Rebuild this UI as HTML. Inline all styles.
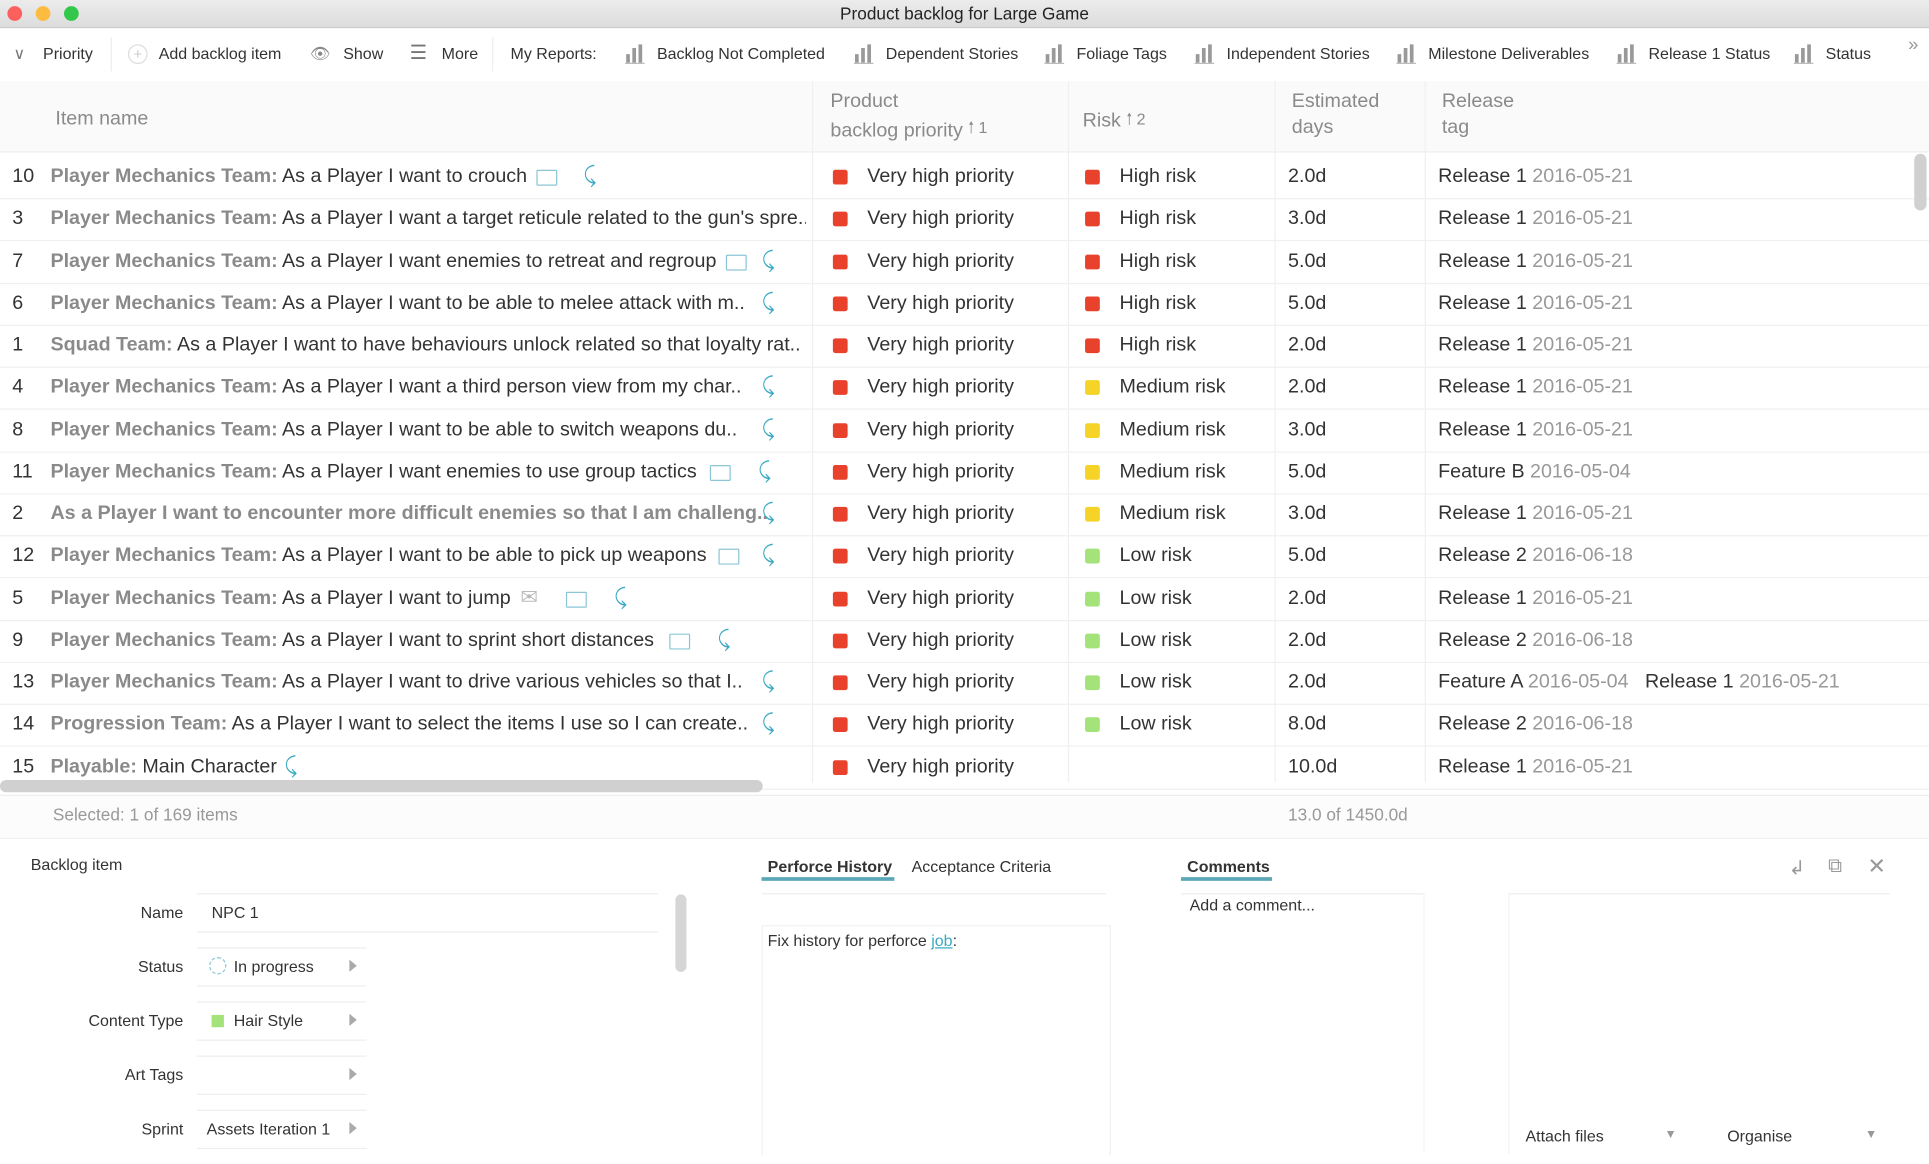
<!DOCTYPE html>
<html><head><meta charset="utf-8">
<style>
html,body{margin:0;padding:0;width:1929px;height:1164px;overflow:hidden;background:#fff;}
#w{position:absolute;left:0;top:0;width:1568px;height:946px;transform:scale(1.23023);transform-origin:0 0;font-family:"Liberation Sans",sans-serif;color:#333;}
.a{position:absolute;white-space:nowrap;}
.tb{font-size:13px;top:36px;color:#333;}
.ic{position:absolute;top:36px;}
.hd{font-size:16px;color:#8a8a8a;line-height:21px;}
.row{position:absolute;left:0;width:1568px;height:34px;border-bottom:1px solid #f0f0f0;font-size:16px;}
.row span{position:absolute;top:8px;white-space:nowrap;}
.g{color:#8a8a8a;font-weight:bold;}
.d{color:#999;}
.sq{position:absolute;top:11px;width:12px;height:12px;border-radius:2px;}
.box{display:inline-block;width:15px;height:11px;border:1.5px solid #8cc6d6;border-radius:1px;vertical-align:-1px;}
.arr{color:#3aa9c4;font-size:18px;}
.lbl{position:absolute;font-size:13px;text-align:right;width:120px;left:29px;}
.fld{position:absolute;border-top:1px solid #eee;border-bottom:1px solid #eee;font-size:13px;}
.fld .t{position:absolute;left:10px;top:7px;}
.fld .tri{position:absolute;right:8px;top:9px;width:0;height:0;border-left:6px solid #aaa;border-top:5px solid transparent;border-bottom:5px solid transparent;}
</style></head><body><div id="w">
<div class="a" style="left:0;top:0;width:1568px;height:22px;background:linear-gradient(#ececec,#dcdcdc);border-bottom:1px solid #c8c8c8;"></div>
<div class="a" style="left:6px;top:5px;width:12px;height:12px;border-radius:50%;background:#fc605c;"></div>
<div class="a" style="left:29px;top:5px;width:12px;height:12px;border-radius:50%;background:#fdbc40;"></div>
<div class="a" style="left:52px;top:5px;width:12px;height:12px;border-radius:50%;background:#34c84a;"></div>
<div class="a" style="left:0;width:1568px;top:3px;text-align:center;font-size:14px;color:#222;">Product backlog for Large Game</div>
<div class="a" style="left:0;top:23px;width:1568px;height:43px;background:#fff;"></div>
<div class="a tb" style="left:11px;color:#777;">∨</div>
<div class="a tb" style="left:35px;">Priority</div>
<div class="a" style="left:90px;top:30px;width:1px;height:28px;background:#eee;"></div>
<div class="a" style="left:104px;top:36px;width:14px;height:14px;border:1px solid #ddd;border-radius:50%;color:#ccc;font-size:12px;text-align:center;line-height:14px;">+</div>
<div class="a tb" style="left:129px;">Add backlog item</div>
<div class="a tb" style="left:252px;color:#888;">👁</div>
<div class="a tb" style="left:279px;">Show</div>
<div class="a tb" style="left:333px;color:#777;font-size:16px;top:33px;">☰</div>
<div class="a tb" style="left:359px;">More</div>
<div class="a" style="left:400px;top:30px;width:1px;height:28px;background:#eee;"></div>
<div class="a tb" style="left:415px;">My Reports:</div>
<svg class="ic" style="left:508px" width="18" height="16"><rect x="1" y="8" width="3" height="7" fill="#999"/><rect x="6" y="3" width="3" height="12" fill="#999"/><rect x="11" y="0" width="3" height="15" fill="#999"/><rect x="0" y="15" width="16" height="1" fill="#bbb"/></svg>
<div class="a tb" style="left:534px;">Backlog Not Completed</div>
<svg class="ic" style="left:694px" width="18" height="16"><rect x="1" y="8" width="3" height="7" fill="#999"/><rect x="6" y="3" width="3" height="12" fill="#999"/><rect x="11" y="0" width="3" height="15" fill="#999"/><rect x="0" y="15" width="16" height="1" fill="#bbb"/></svg>
<div class="a tb" style="left:720px;">Dependent Stories</div>
<svg class="ic" style="left:849px" width="18" height="16"><rect x="1" y="8" width="3" height="7" fill="#999"/><rect x="6" y="3" width="3" height="12" fill="#999"/><rect x="11" y="0" width="3" height="15" fill="#999"/><rect x="0" y="15" width="16" height="1" fill="#bbb"/></svg>
<div class="a tb" style="left:875px;">Foliage Tags</div>
<svg class="ic" style="left:971px" width="18" height="16"><rect x="1" y="8" width="3" height="7" fill="#999"/><rect x="6" y="3" width="3" height="12" fill="#999"/><rect x="11" y="0" width="3" height="15" fill="#999"/><rect x="0" y="15" width="16" height="1" fill="#bbb"/></svg>
<div class="a tb" style="left:997px;">Independent Stories</div>
<svg class="ic" style="left:1135px" width="18" height="16"><rect x="1" y="8" width="3" height="7" fill="#999"/><rect x="6" y="3" width="3" height="12" fill="#999"/><rect x="11" y="0" width="3" height="15" fill="#999"/><rect x="0" y="15" width="16" height="1" fill="#bbb"/></svg>
<div class="a tb" style="left:1161px;">Milestone Deliverables</div>
<svg class="ic" style="left:1314px" width="18" height="16"><rect x="1" y="8" width="3" height="7" fill="#999"/><rect x="6" y="3" width="3" height="12" fill="#999"/><rect x="11" y="0" width="3" height="15" fill="#999"/><rect x="0" y="15" width="16" height="1" fill="#bbb"/></svg>
<div class="a tb" style="left:1340px;">Release 1 Status</div>
<svg class="ic" style="left:1458px" width="18" height="16"><rect x="1" y="8" width="3" height="7" fill="#999"/><rect x="6" y="3" width="3" height="12" fill="#999"/><rect x="11" y="0" width="3" height="15" fill="#999"/><rect x="0" y="15" width="16" height="1" fill="#bbb"/></svg>
<div class="a tb" style="left:1484px;">Status</div>
<div class="a tb" style="left:1551px;top:28px;color:#999;font-size:15px;">»</div>
<div class="a" style="left:0;top:66px;width:1568px;height:57px;background:#fafafa;border-bottom:1px solid #eee;"></div>
<div class="a" style="left:660px;top:66px;width:1px;height:570px;background:#f0f0f0;"></div>
<div class="a" style="left:868px;top:66px;width:1px;height:570px;background:#f0f0f0;"></div>
<div class="a" style="left:1036px;top:66px;width:1px;height:570px;background:#f0f0f0;"></div>
<div class="a" style="left:1158px;top:66px;width:1px;height:570px;background:#f0f0f0;"></div>
<div class="a hd" style="left:45px;top:86px;">Item name</div>
<div class="a hd" style="left:675px;top:72px;">Product<br>backlog priority <span style="font-size:13px;vertical-align:3px">🠑 1</span></div>
<div class="a hd" style="left:880px;top:86px;">Risk <span style="font-size:13px;vertical-align:2px">🠑 2</span></div>
<div class="a hd" style="left:1050px;top:72px;">Estimated<br>days</div>
<div class="a hd" style="left:1172px;top:72px;">Release<br>tag</div>
<div id="rows"></div>
<div class="a" style="left:1556px;top:125px;width:10px;height:46px;border-radius:5px;background:#d0d0d0;"></div>
<div class="a" style="left:0;top:634px;width:620px;height:10px;border-radius:5px;background:#d0d0d0;"></div>
<div class="a" style="left:0;top:646px;width:1568px;height:34px;background:#fcfcfc;border-top:1px solid #eee;border-bottom:1px solid #f0f0f0;"></div>
<div class="a" style="left:43px;top:654px;font-size:14px;color:#999;">Selected: 1 of 169 items</div>
<div class="a" style="left:1047px;top:654px;font-size:14px;color:#999;">13.0 of 1450.0d</div>
<div class="a" style="left:25px;top:695px;font-size:13px;">Backlog item</div>
<div class="lbl" style="top:734px;">Name</div>
<div class="lbl" style="top:778px;">Status</div>
<div class="lbl" style="top:822px;">Content Type</div>
<div class="lbl" style="top:866px;">Art Tags</div>
<div class="lbl" style="top:910px;">Sprint</div>
<div class="fld" style="left:160px;top:726px;width:375px;height:30px;"><span class="t a" style="left:12px">NPC 1</span></div>
<div class="fld" style="left:160px;top:770px;width:138px;height:30px;"><span class="a" style="left:10px;top:7px;width:12px;height:12px;border:1px dashed #8cc6d6;border-radius:50%;"></span><span class="t a" style="left:30px">In progress</span><span class="tri"></span></div>
<div class="fld" style="left:160px;top:814px;width:138px;height:30px;"><span class="a" style="left:12px;top:10px;width:10px;height:10px;background:#a4e27a;"></span><span class="t a" style="left:30px">Hair Style</span><span class="tri"></span></div>
<div class="fld" style="left:160px;top:858px;width:138px;height:30px;"><span class="tri"></span></div>
<div class="fld" style="left:160px;top:902px;width:138px;height:30px;"><span class="t a" style="left:8px">Assets Iteration 1</span><span class="tri"></span></div>
<div class="a" style="left:549px;top:727px;width:9px;height:63px;border-radius:5px;background:#d6d6d6;"></div>
<div class="a" style="left:624px;top:697px;font-size:13px;font-weight:bold;color:#333;">Perforce History</div>
<div class="a" style="left:619px;top:713px;width:108px;height:3px;background:#5aa7b8;"></div>
<div class="a" style="left:741px;top:697px;font-size:13px;">Acceptance Criteria</div>
<div class="a" style="left:619px;top:726px;width:280px;height:1px;background:#eee;"></div>
<div class="a" style="left:619px;top:752px;width:282px;height:186px;border-left:1px solid #f0f0f0;border-right:1px solid #f0f0f0;border-top:1px solid #f3f3f3;"></div>
<div class="a" style="left:624px;top:757px;font-size:13px;">Fix history for perforce <span style="color:#3aa9c4;text-decoration:underline">job</span>:</div>
<div class="a" style="left:965px;top:697px;font-size:13px;font-weight:bold;">Comments</div>
<div class="a" style="left:960px;top:713px;width:74px;height:3px;background:#5aa7b8;"></div>
<div class="a" style="left:960px;top:726px;width:197px;height:1px;background:#eee;"></div>
<div class="a" style="left:1157px;top:726px;width:1px;height:210px;background:#f3f3f3;"></div>
<div class="a" style="left:967px;top:728px;font-size:13px;">Add a comment...</div>
<div class="a" style="left:1454px;top:696px;font-size:16px;color:#999;">↲</div>
<div class="a" style="left:1486px;top:696px;font-size:16px;color:#999;">⧉</div>
<div class="a" style="left:1518px;top:694px;font-size:18px;color:#999;">✕</div>
<div class="a" style="left:1226px;top:726px;width:310px;height:1px;background:#eee;"></div>
<div class="a" style="left:1226px;top:726px;width:1px;height:212px;background:#f3f3f3;"></div>
<div class="a" style="left:1240px;top:916px;font-size:13px;">Attach files</div>
<div class="a" style="left:1353px;top:917px;font-size:10px;color:#999;">▼</div>
<div class="a" style="left:1404px;top:916px;font-size:13px;">Organise</div>
<div class="a" style="left:1516px;top:917px;font-size:10px;color:#999;">▼</div>
</div>
<script>
var R=[
["10","Player Mechanics Team:","As a Player I want to crouch",[["b",436],["a",474]],"h","2.0d","Release 1","2016-05-21"],
["3","Player Mechanics Team:","As a Player I want a target reticule related to the gun's spre..",[],"h","3.0d","Release 1","2016-05-21"],
["7","Player Mechanics Team:","As a Player I want enemies to retreat and regroup",[["b",590],["a",619]],"h","5.0d","Release 1","2016-05-21"],
["6","Player Mechanics Team:","As a Player I want to be able to melee attack with m..",[["a",619]],"h","5.0d","Release 1","2016-05-21"],
["1","Squad Team:","As a Player I want to have behaviours unlock related so that loyalty rat..",[],"h","2.0d","Release 1","2016-05-21"],
["4","Player Mechanics Team:","As a Player I want a third person view from my char..",[["a",619]],"m","2.0d","Release 1","2016-05-21"],
["8","Player Mechanics Team:","As a Player I want to be able to switch weapons du..",[["a",619]],"m","3.0d","Release 1","2016-05-21"],
["11","Player Mechanics Team:","As a Player I want enemies to use group tactics",[["b",577],["a",616]],"m","5.0d","Feature B","2016-05-04"],
["2","As a Player I want to encounter more difficult enemies so that I am challeng..","",[["a",619]],"m","3.0d","Release 1","2016-05-21"],
["12","Player Mechanics Team:","As a Player I want to be able to pick up weapons",[["b",584],["a",619]],"l","5.0d","Release 2","2016-06-18"],
["5","Player Mechanics Team:","As a Player I want to jump",[["e",423],["b",460],["a",499]],"l","2.0d","Release 1","2016-05-21"],
["9","Player Mechanics Team:","As a Player I want to sprint short distances",[["b",544],["a",583]],"l","2.0d","Release 2","2016-06-18"],
["13","Player Mechanics Team:","As a Player I want to drive various vehicles so that I..",[["a",619]],"l","2.0d","Feature A","2016-05-04"],
["14","Progression Team:","As a Player I want to select the items I use so I can create..",[["a",619]],"l","8.0d","Release 2","2016-06-18"],
["15","Playable:","Main Character",[["a",231]],"","10.0d","Release 1","2016-05-21"]];
var col={h:"#e8412c",m:"#f5d327",l:"#a4e27a"},nm={h:"High risk",m:"Medium risk",l:"Low risk"},h="";
R.forEach(function(r,i){var t=127+i*34.25;
h+='<div class="row" style="top:'+t+'px">';
h+='<span style="left:10px">'+r[0]+'</span>';
h+='<span style="left:41px;max-width:614px;overflow:hidden"><span class="g" style="position:static">'+r[1]+'</span>'+(r[2]?' '+r[2]:'')+'</span>';
r[3].forEach(function(c){if(c[0]=="b")h+='<span style="left:'+c[1]+'px;top:10px"><i class="box"></i></span>';
else if(c[0]=="a")h+='<span class="arr" style="left:'+c[1]+'px;top:5px">⤹</span>';
else h+='<span style="left:'+c[1]+'px;top:6px;color:#bbb;font-size:17px">✉</span>';});
h+='<div class="sq" style="left:677px;background:#e8412c"></div><span style="left:705px">Very high priority</span>';
if(r[4])h+='<div class="sq" style="left:882px;background:'+col[r[4]]+'"></div><span style="left:910px">'+nm[r[4]]+'</span>';
h+='<span style="left:1047px">'+r[5]+'</span>';
h+='<span style="left:1169px">'+r[6]+' <span class="d" style="position:static">'+r[7]+'</span>'+(r[0]=="13"?'&nbsp;&nbsp;&nbsp;Release 1 <span class="d" style="position:static">2016-05-21</span>':'')+'</span>';
h+='</div>';});
document.getElementById("rows").innerHTML=h;
</script>
</body></html>
